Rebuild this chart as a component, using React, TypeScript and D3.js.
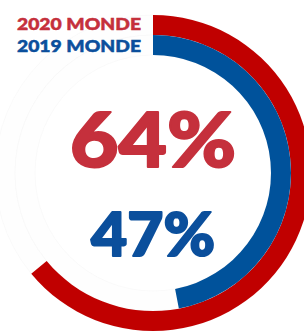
import React, { useEffect, useRef } from 'react';
import * as d3 from 'd3';

const series = ['2020 MONDE', '2019 MONDE'];
const values = [64, 47];
const colors = ['#c00000', '#00529b'];
const textColors = ['#c5303c', '#0b4f9c'];

export default function App() {
    const ref = useRef<SVGSVGElement>(null);

    useEffect(() => {
        const width = 304;
        const height = 331;
        const svg = d3.select(ref.current);
        svg.selectAll('*').remove();

        const cx = 153;
        const cy = 173;
        const g = svg.append('g').attr('transform', `translate(${cx}, ${cy})`);

        //percent -> angle
        const angle = d3.scaleLinear().domain([0, 100]).range([0, 2 * Math.PI]);
        //ring index -> radius band (index 0 outermost)
        const ring = d3.scaleBand<number>().domain([1, 0]).range([118, 158]);

        const arc = d3.arc<any>()
            .innerRadius((d) => ring(d.i) as number)
            .outerRadius((d) => (ring(d.i) as number) + ring.bandwidth())
            .startAngle(0)
            .endAngle((d) => angle(d.v));

        const data = values.map((v, i) => ({ v, i }));

        //faint background tracks
        g.selectAll('path.track')
            .data(data)
            .enter()
            .append('path')
            .attr('class', 'track')
            .attr('d', (d) => arc({ ...d, v: 100 }))
            .attr('fill', '#fefefe')
            .attr('stroke', '#f6f6f6')
            .attr('stroke-width', 0.6);

        g.selectAll('path.bar')
            .data(data)
            .enter()
            .append('path')
            .attr('class', 'bar')
            .attr('d', (d) => arc(d))
            .attr('fill', (d) => colors[d.i]);

        //series labels, right aligned next to arc start
        svg.selectAll('text.label')
            .data(series)
            .enter()
            .append('text')
            .attr('class', 'label')
            .attr('x', 141)
            .attr('y', (d, i) => 30 + i * 22)
            .attr('text-anchor', 'end')
            .attr('font-family', 'Lato, sans-serif')
            .attr('font-weight', 900)
            .attr('font-size', '17px')
            .attr('textLength', 124)
            .attr('lengthAdjust', 'spacingAndGlyphs')
            .attr('fill', (d, i) => textColors[i])
            .attr('stroke', (d, i) => textColors[i])
            .attr('stroke-width', 0.5)
            .text((d) => d);

        //big percentages
        const big = [
            { y: 167, size: 76, w: 166 },
            { y: 256, size: 60, w: 124 },
        ];
        svg.selectAll('text.value')
            .data(values)
            .enter()
            .append('text')
            .attr('class', 'value')
            .attr('x', 153)
            .attr('y', (d, i) => big[i].y)
            .attr('text-anchor', 'middle')
            .attr('font-family', 'Lato, sans-serif')
            .attr('font-weight', 900)
            .attr('font-size', (d, i) => `${big[i].size}px`)
            .attr('textLength', (d, i) => big[i].w)
            .attr('lengthAdjust', 'spacingAndGlyphs')
            .attr('fill', (d, i) => textColors[i])
            .attr('stroke', (d, i) => textColors[i])
            .attr('stroke-width', 2)
            .attr('stroke-linejoin', 'round')
            .text((d) => `${d}%`);

        svg.attr('width', width).attr('height', height);
    }, []);

    return (
        <div style={{ position: 'absolute', left: 0, top: 0 }}>
            <svg ref={ref} width={304} height={331} style={{ display: 'block' }}></svg>
        </div>
    );
}
